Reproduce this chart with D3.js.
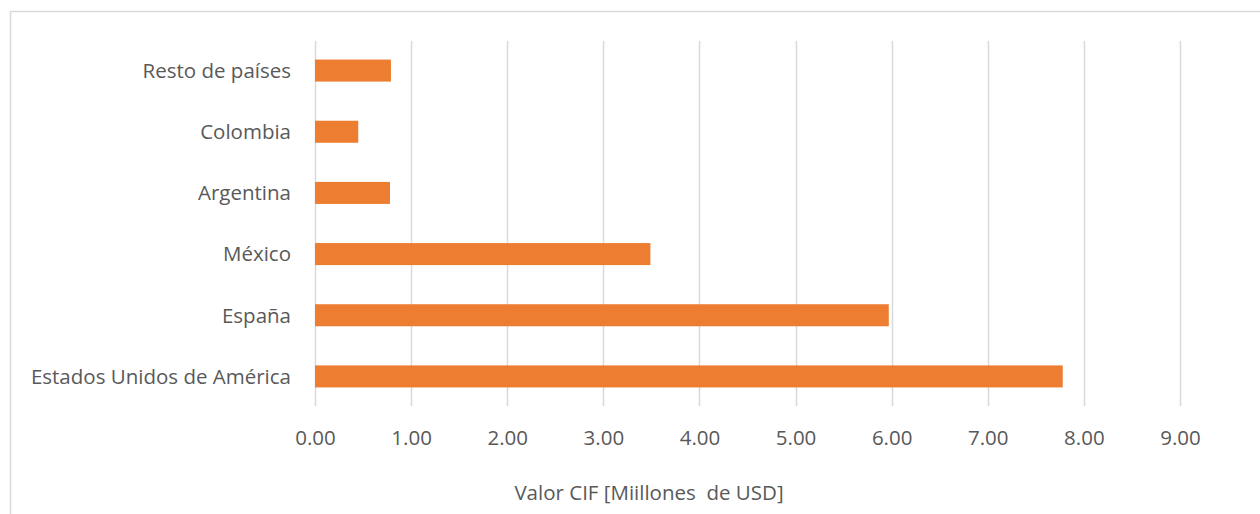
<!DOCTYPE html>
<html>
<head>
<meta charset="utf-8">
<script src="https://cdn.jsdelivr.net/npm/d3@7"></script>
<style>
  html, body { margin: 0; padding: 0; background: #fff; }
  text { font-family: "Open Sans", "Noto Sans", sans-serif; fill: #595959; }
</style>
</head>
<body>
<svg id="chart" width="1260" height="514"></svg>
<script>
// categories, top to bottom as drawn
var countries = ['Resto de países', 'Colombia', 'Argentina', 'México', 'España', 'Estados Unidos de América'];
// Valor CIF, millones de USD
var values = [0.79, 0.45, 0.78, 3.49, 5.97, 7.78];
var xTicks = [0, 1, 2, 3, 4, 5, 6, 7, 8, 9];
var axisTitle = 'Valor CIF [Miillones  de USD]';

var fontSize = 20.5;
var svg = d3.select('#chart');

// chart area border (right and bottom edges fall off the picture)
svg.append('rect')
  .attr('x', 10.5).attr('y', 11.5)
  .attr('width', 1300).attr('height', 600)
  .attr('fill', 'none')
  .attr('stroke', '#d9d9d9')
  .attr('stroke-width', 1.5);

var plot = {left: 315, right: 1180, top: 40, bottom: 407};

var x = d3.scaleLinear().domain([0, 9]).range([plot.left, plot.right]);
var y = d3.scaleBand().domain(countries)
  .range([plot.top, plot.bottom])
  .paddingInner(0.64).paddingOuter(0.32);

// vertical gridlines
svg.append('g').attr('class', 'grid')
  .selectAll('line').data(xTicks).enter().append('line')
  .attr('x1', d => Math.round(x(d)) + 0.5)
  .attr('x2', d => Math.round(x(d)) + 0.5)
  .attr('y1', plot.top + 1)
  .attr('y2', plot.bottom - 1)
  .attr('stroke', '#d9d9d9')
  .attr('stroke-width', 1.5);

var data = countries.map((c, i) => ({name: c, value: values[i]}));

svg.append('g').attr('class', 'bars')
  .selectAll('rect').data(data).enter().append('rect')
  .attr('x', x(0))
  .attr('y', d => y(d.name))
  .attr('width', d => x(d.value) - x(0))
  .attr('height', y.bandwidth())
  .attr('fill', '#ed7d31');

// x axis: labels only, no domain line
var xAxis = d3.axisBottom(x)
  .tickValues(xTicks)
  .tickFormat(d3.format('.2f'))
  .tickSize(0)
  .tickPadding(0);

var gx = svg.append('g')
  .attr('transform', 'translate(0,445)')
  .call(xAxis);
gx.select('.domain').remove();
gx.selectAll('text')
  .attr('font-size', fontSize)
  .attr('dy', 0)
  .attr('fill', '#595959')
  .style('font-family', '"Open Sans", "Noto Sans", sans-serif');

// y axis: category names right-aligned against the plot
var yAxis = d3.axisLeft(y).tickSize(0).tickPadding(24);
var gy = svg.append('g')
  .attr('transform', `translate(${plot.left},0)`)
  .call(yAxis);
gy.select('.domain').remove();
gy.selectAll('text')
  .attr('font-size', fontSize)
  .attr('dy', '0.36em')
  .attr('fill', '#595959')
  .style('font-family', '"Open Sans", "Noto Sans", sans-serif');

svg.append('text')
  .attr('x', 649)
  .attr('y', 500)
  .attr('text-anchor', 'middle')
  .attr('font-size', fontSize)
  .style('white-space', 'pre')
  .text(axisTitle);
</script>
</body>
</html>
